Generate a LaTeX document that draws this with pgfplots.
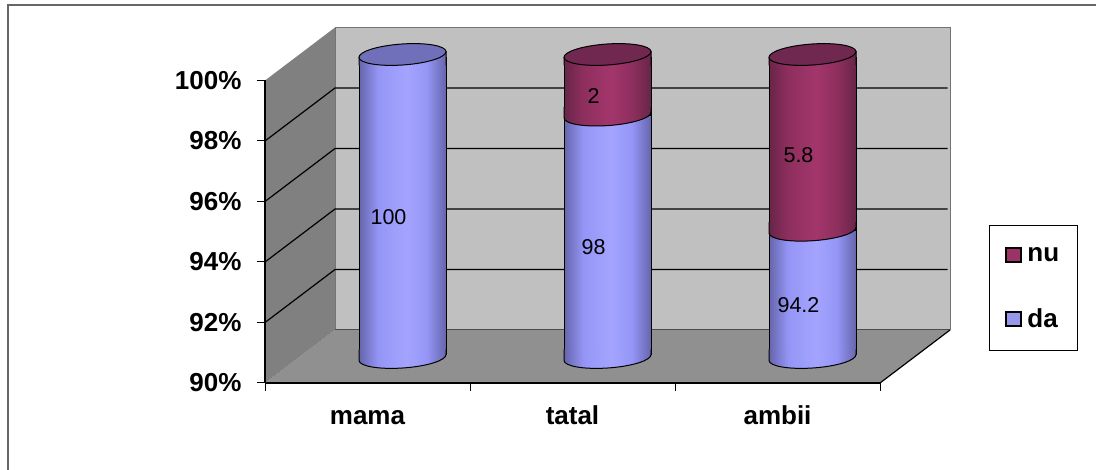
\documentclass[border=0pt]{standalone}
\usepackage{fontspec}
\usepackage{pgfplots}
\pgfplotsset{compat=1.18}
\setmainfont{Liberation Sans}

\definecolor{blueedge}{HTML}{6565AC}
\definecolor{bluemid}{HTML}{9595F6}
\definecolor{bluelight}{HTML}{A4A4FF}
\definecolor{bluetop}{HTML}{7070BA}
\definecolor{rededge}{HTML}{682548}
\definecolor{redmid}{HTML}{8E2F5E}
\definecolor{redlight}{HTML}{A3366C}
\definecolor{redtop}{HTML}{702850}
\definecolor{wallback}{HTML}{C0C0C0}
\definecolor{wallside}{HTML}{808080}
\definecolor{wallfloor}{HTML}{909090}

\pgfdeclarehorizontalshading{cylblue}{100bp}{color(0bp)=(blueedge); color(25bp)=(blueedge); color(36bp)=(bluemid); color(52bp)=(bluelight); color(64bp)=(bluemid); color(75bp)=(blueedge); color(100bp)=(blueedge)}
\pgfdeclarehorizontalshading{cylred}{100bp}{color(0bp)=(rededge); color(25bp)=(rededge); color(36bp)=(redmid); color(52bp)=(redlight); color(64bp)=(redmid); color(75bp)=(rededge); color(100bp)=(rededge)}

% lower edge of a segment and the top lid of a cylinder, tilted by the 3D view
\newcommand{\footmark}[1]{\path[draw=black,line width=1pt,shade,shading=#1]
  (-43.5pt,8pt) -- (-43.5pt,-3pt)
  .. controls (-43.1pt,-8.79pt) and (-23.3pt,-12.13pt) .. (0.72pt,-10.47pt)
  .. controls (24.74pt,-8.81pt) and (43.9pt,-2.79pt) .. (43.5pt,3pt)
  -- (43.5pt,8pt);}
\newcommand{\capmark}[2]{\path[draw=black,line width=1pt,shade,shading=#1]
  (-43.5pt,-11pt) -- (-43.5pt,-3pt) -- (43.5pt,3pt) -- (43.5pt,-11pt);
  \path[draw=black,line width=1pt,fill=#2] (-43.5pt,-3pt)
  .. controls (-43.1pt,-8.79pt) and (-23.3pt,-12.13pt) .. (0.72pt,-10.47pt)
  .. controls (24.74pt,-8.81pt) and (43.9pt,-2.79pt) .. (43.5pt,3pt)
  .. controls (43.1pt,8.79pt) and (23.3pt,12.13pt) .. (-0.72pt,10.47pt)
  .. controls (-24.74pt,8.81pt) and (-43.9pt,2.79pt) .. (-43.5pt,-3pt) -- cycle;}
\pgfdeclareplotmark{footblue}{\footmark{cylblue}}
\pgfdeclareplotmark{footred}{\footmark{cylred}}
\pgfdeclareplotmark{capblue}{\capmark{cylblue}{bluetop}}
\pgfdeclareplotmark{capred}{\capmark{cylred}{redtop}}

\newcommand{\labfont}{\fontsize{26}{29}\selectfont\bfseries}

\begin{document}
\begin{tikzpicture}
\useasboundingbox (0pt,0pt) rectangle (1096pt,470pt);
\draw[color=black!60,line width=1.5pt] (8pt,0pt) -- (8pt,465pt) -- (1096pt,465pt);

% walls, floor and the value axis
\begin{axis}[
  at={(265pt,87pt)}, anchor=south west,
  scale only axis, width=615pt, height=302.5pt,
  xmin=0, xmax=3, ymin=90, ymax=100,
  clip=false, axis on top,
  axis x line*=bottom, axis y line*=left,
  axis line style={black,line width=1.2pt,-},
  xtick={0.5,1.5,2.5}, xticklabels={mama,tatal,ambii},
  minor xtick={0,1,2,3},
  ytick={90,92,94,96,98,100},
  yticklabels={90\%,92\%,94\%,96\%,98\%,100\%},
  major x tick style={draw=none},
  minor tick length=8pt, major tick length=8pt,
  tick style={black,line width=1pt},
  tick align=outside,
  tick label style={font=\labfont},
  xticklabel style={yshift=-10.7pt,text height=19pt,text depth=0pt},
  yticklabel style={xshift=-12pt},
]
\addplot[fill=wallback,draw=black!55,line width=1pt] coordinates {(0.3415,91.752) (3.3415,91.752) (3.3415,101.752) (0.3415,101.752)} -- cycle;
\addplot[fill=wallfloor,draw=none] coordinates {(0,90) (3,90) (3.3415,91.752) (0.3415,91.752)} -- cycle;
\addplot[fill=wallside,draw=none] coordinates {(0,90) (0.3415,91.752) (0.3415,101.752) (0,100)} -- cycle;
\addplot[black!70,line width=1pt] coordinates {(0.3415,91.752) (3.3415,91.752)};
\addplot[black,line width=1.2pt] coordinates {(3,90) (3.3415,91.752)};
\addplot[black,line width=1.2pt] coordinates {(0,92) (0.3415,93.752) (3.33,93.752)};
\addplot[black,line width=1.2pt] coordinates {(0,94) (0.3415,95.752) (3.33,95.752)};
\addplot[black,line width=1.2pt] coordinates {(0,96) (0.3415,97.752) (3.33,97.752)};
\addplot[black,line width=1.2pt] coordinates {(0,98) (0.3415,99.752) (3.33,99.752)};
\end{axis}

% cylinder bodies: one plot per bar so each gets its own shading, da over nu
\begin{axis}[
  at={(300pt,115.53pt)}, anchor=south west,
  scale only axis, width=615pt, height=296.94pt,
  xmin=0, xmax=3, ymin=90.1, ymax=99.9,
  hide axis, ybar, bar width=87pt, bar shift=0pt,
]
\addplot[draw=black,line width=1pt,shade,shading=cylred] coordinates {(1.5,100)};
\addplot[draw=black,line width=1pt,shade,shading=cylred] coordinates {(2.5,100)};
\addplot[draw=black,line width=1pt,shade,shading=cylblue] coordinates {(0.5,100)};
\addplot[draw=black,line width=1pt,shade,shading=cylblue] coordinates {(1.5,98)};
\addplot[draw=black,line width=1pt,shade,shading=cylblue] coordinates {(2.5,94.2)};
\end{axis}

% segment edges, lids, value labels and legend
\begin{axis}[
  at={(300pt,112.5pt)}, anchor=south west,
  scale only axis, width=615pt, height=303pt,
  xmin=0, xmax=3, ymin=90, ymax=100,
  hide axis, clip=false,
  legend style={at={(1.1203,0.4389)},anchor=north west,draw=black,line width=1pt,
    font=\labfont,inner xsep=16pt,inner ysep=20pt,row sep=42pt},
  legend cell align=left,
]
\addplot[only marks,mark=footblue,forget plot] coordinates {(0.5,90) (1.5,90) (2.5,90)};
\addplot[only marks,mark=footred,forget plot] coordinates {(1.5,98) (2.5,94.2)};
\addplot[only marks,mark=capblue,forget plot] coordinates {(0.5,100)};
\addplot[only marks,mark=capred,forget plot] coordinates {(1.5,100) (2.5,100)};
\addplot[only marks,mark=none,forget plot,point meta=explicit symbolic,nodes near coords,
  every node near coord/.append style={anchor=center,xshift=-14pt,yshift=0pt,inner sep=0pt,
    font=\fontsize{21.5}{24}\selectfont}]
  coordinates {(0.5,94.64)[100] (1.5,93.65)[98] (2.5,91.73)[94.2] (1.5,98.63)[2] (2.5,96.68)[5.8]};
\addlegendimage{legend image code/.code={\draw[black,line width=2pt,fill=redlight!95!black] (0pt,-7pt) rectangle (15pt,7pt); \path[draw=none] (0pt,0pt) -- (19pt,0pt);}}
\addlegendentry{nu}
\addlegendimage{legend image code/.code={\draw[black,line width=2pt,fill=bluelight!92!black] (0pt,-7pt) rectangle (15pt,7pt); \path[draw=none] (0pt,0pt) -- (19pt,0pt);}}
\addlegendentry{da}
\end{axis}
\end{tikzpicture}
\end{document}
